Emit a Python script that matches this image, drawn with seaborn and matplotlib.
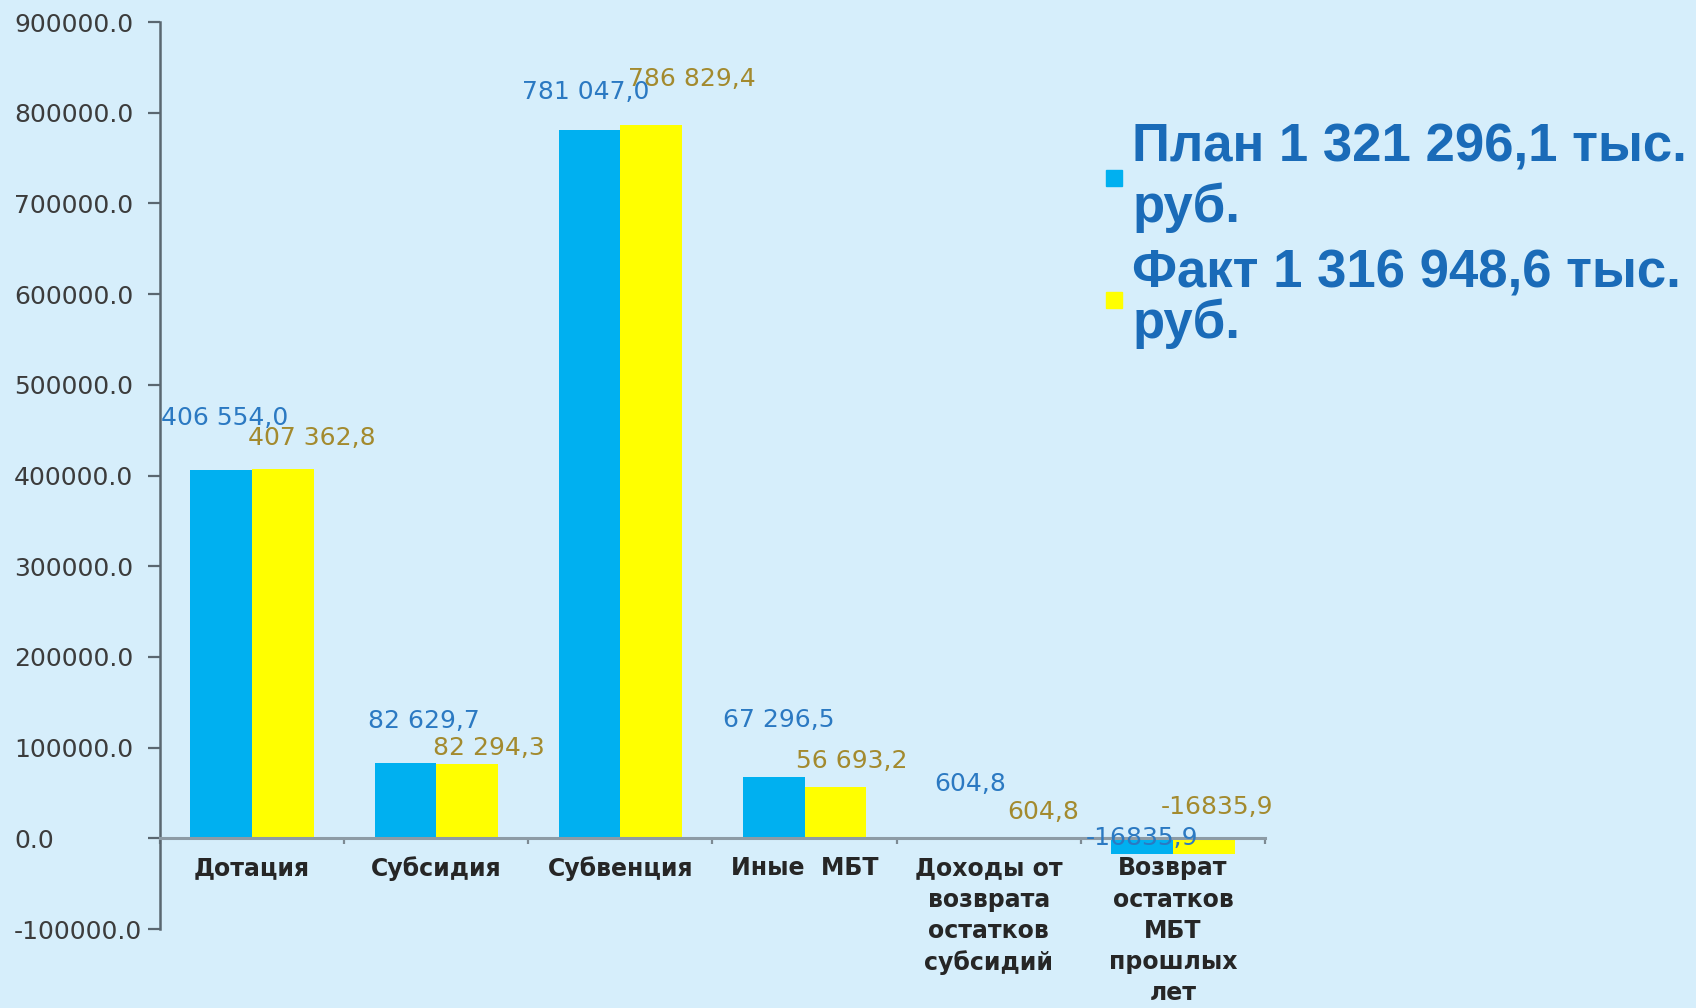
import numpy as np
import pandas as pd
import seaborn as sns
import matplotlib.pyplot as plt
from matplotlib.lines import Line2D
from matplotlib.ticker import FormatStrFormatter, FixedLocator

# --- data ---
categories = ['Дотация', 'Субсидия', 'Субвенция', 'Иные  МБТ',
              'Доходы от\nвозврата\nостатков\nсубсидий',
              'Возврат\nостатков\nМБТ\nпрошлых\nлет']
series = ['План 1 321 296,1 тыс.\nруб.', 'Факт 1 316 948,6 тыс.\nруб.']
plan = [406554.0, 82629.7, 781047.0, 67296.5, 604.8, -16835.9]
fact = [407362.8, 82294.3, 786829.4, 56693.2, 604.8, -16835.9]
plan_labels = ['406 554,0', '82 629,7', '781 047,0', '67 296,5', '604,8', '-16835,9']
fact_labels = ['407 362,8', '82 294,3', '786 829,4', '56 693,2', '604,8', '-16835,9']

# label nudges in pixels (dx, dy) from the bar end, like the hand-placed labels
plan_nudge = [(3, 52), (18, 42), (-4, 38), (5, 57), (12, 54), (0, 16)]
fact_nudge = [(29, 31), (22, 16), (41, 46), (16, 26), (24, 26), (13, 47)]

bg = '#D6EEFB'
bar_colors = ['#00B0F0', '#FFFF00']
label_colors = ['#2B79C2', '#A38A2E']

df = pd.DataFrame({
    'category': categories * 2,
    'series': [series[0]] * len(categories) + [series[1]] * len(categories),
    'value': plan + fact,
})

sns.set_theme(style='white')
plt.rcParams['font.family'] = ['DejaVu Sans']
plt.rcParams['axes.unicode_minus'] = False

fig = plt.figure(figsize=(16.96, 10.08), dpi=100, facecolor=bg)
ax = fig.add_axes([0.09434, 0.07837, 0.65153, 0.89980])
ax.set_facecolor(bg)

sns.barplot(data=df, x='category', y='value', hue='series', order=categories,
            hue_order=series, palette=bar_colors, saturation=1, width=0.67,
            errorbar=None, legend=False, linewidth=0, edgecolor='none', ax=ax)

ax.set_xlim(-0.5, 5.5)
ax.set_ylim(-100000, 900000)
ax.set_yticks(np.arange(-100000, 900001, 100000))
ax.yaxis.set_major_formatter(FormatStrFormatter('%.1f'))
ax.set_xlabel('')
ax.set_ylabel('')

# axes look
for side in ['top', 'right']:
    ax.spines[side].set_visible(False)
ax.spines['left'].set_color('#5A6770')
ax.spines['left'].set_linewidth(1.8)
ax.spines['bottom'].set_position(('data', 0))
ax.spines['bottom'].set_color('#8D9BA5')
ax.spines['bottom'].set_linewidth(2.2)

ax.tick_params(axis='y', direction='out', length=8.6, width=1.6, color='#5A6770',
               labelsize=18, labelcolor='#3C3C3C', pad=96.5, left=True)
for lbl in ax.get_yticklabels():
    lbl.set_ha('left')

ax.xaxis.set_minor_locator(FixedLocator(np.arange(-0.5, 6, 1.0)))
ax.tick_params(axis='x', which='major', length=0, pad=13, labelsize=17,
               labelcolor='#262626', bottom=True)
ax.tick_params(axis='x', which='minor', direction='out', length=4.5, width=1.6,
               color='#7D8A93', bottom=True)
for lbl in ax.get_xticklabels():
    lbl.set_fontweight('bold')
    lbl.set_linespacing(1.38)

# value labels
for cont, texts, nudges, col in zip(ax.containers, [plan_labels, fact_labels],
                                    [plan_nudge, fact_nudge], label_colors):
    for bar, txt, (dx, dy) in zip(cont, texts, nudges):
        xc = bar.get_x() + bar.get_width() / 2
        yv = bar.get_y() + bar.get_height()
        ax.annotate(txt, xy=(xc, yv), xytext=(dx, dy), textcoords='offset pixels',
                    ha='center', va='center', fontsize=18, color=col)

# legend
handles = [Line2D([], [], linestyle='none', marker='s', markersize=11,
                  markerfacecolor=c, markeredgecolor=c) for c in bar_colors]
leg = fig.legend(handles, series, loc='upper left', bbox_to_anchor=(0.635, 0.905),
                 frameon=False, borderpad=0, handlelength=0.4, handletextpad=0.15,
                 labelspacing=0.3, prop={'family': 'Liberation Sans', 'weight': 'bold',
                                         'size': 38})
for t, ls in zip(leg.get_texts(), [1.25, 1.0]):
    t.set_color('#1A6BB8')
    t.set_linespacing(ls)

fig.savefig('out.png', dpi=100, facecolor=bg)
